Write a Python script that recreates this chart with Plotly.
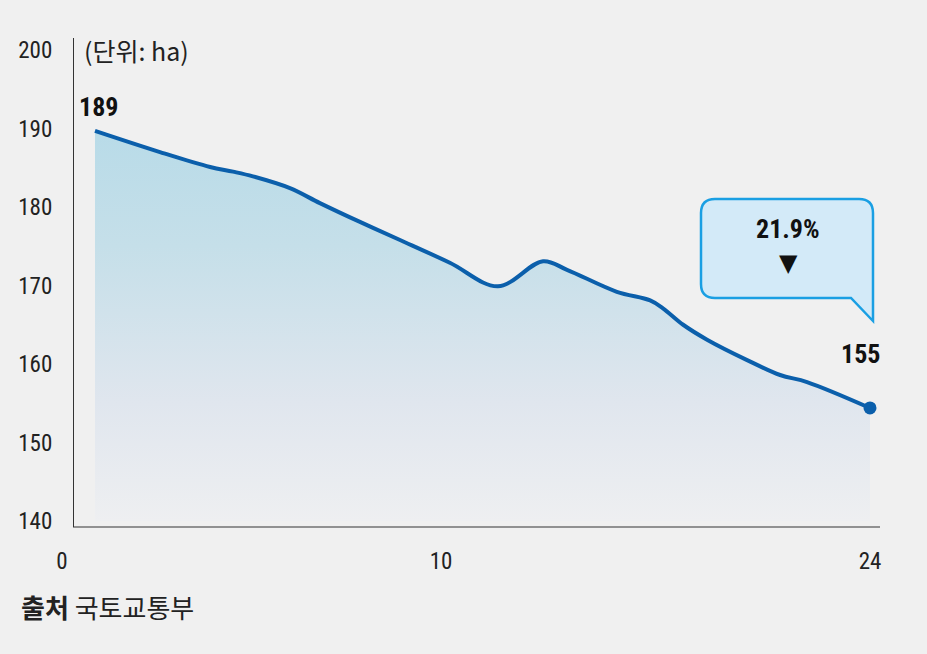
import plotly.graph_objects as go

# x position (0 .. 24 scale of the axis) and area in ha
x_pos = [0.98, 2.91, 4.40, 5.08, 5.67, 6.77, 7.66, 8.85, 10.04, 11.52, 12.95,
         14.29, 15.00, 16.48, 17.47, 17.85, 18.45, 19.16, 20.35, 21.33, 22.13, 24.0]
area = [189.7, 187.0, 185.1, 184.5, 183.9, 182.4, 180.5, 178.1, 175.8, 172.9, 169.9,
        173.1, 172.0, 169.2, 168.1, 167.1, 165.0, 163.1, 160.5, 158.6, 157.7, 154.4]
tick_vals = [0, 11.26, 24]
tick_text = ["0", "10", "24"]
y_ticks = [140, 150, 160, 170, 180, 190, 200]
start_label = "189"
end_label = "155"
change_label = "21.9%"

W, H = 927, 654
L, R, T, B = 62, 880, 38, 527
FONT = "Liberation Sans Narrow, Roboto Condensed, DejaVu Sans Condensed, Noto Sans CJK KR"
KFONT = "Liberation Sans Narrow, Noto Sans CJK KR"
LINE = "#0b5fab"


def px(x, y):
    """ pixel -> paper coords """
    return (x - L) / (R - L), (B - y) / (B - T)


fig = go.Figure()

# baseline for the gradient fill
fig.add_trace(go.Scatter(x=[x_pos[0], x_pos[-1]], y=[140, 140], mode="lines",
                         line=dict(width=0), hoverinfo="skip", showlegend=False))
fig.add_trace(go.Scatter(x=x_pos, y=area, mode="lines",
                         line=dict(color=LINE, width=4, shape="spline", smoothing=1.0),
                         fill="tonexty",
                         fillgradient=dict(type="vertical", start=140, stop=190,
                                           colorscale=[[0, "#eeeff1"], [0.3, "#e0e6ee"],
                                                       [0.7, "#c5dfe9"], [1, "#b8dbe8"]]),
                         showlegend=False))
fig.add_trace(go.Scatter(x=[x_pos[-1]], y=[area[-1]], mode="markers",
                         marker=dict(color=LINE, size=13), showlegend=False))

x_range = [0, (R - L) / ((870 - 62) / 24)]
fig.update_xaxes(range=x_range, tickvals=tick_vals, ticktext=tick_text,
                 showgrid=False, zeroline=False, showline=False, ticks="",
                 ticklabelstandoff=18, tickfont=dict(family=FONT, size=23, color="#222"))
fig.update_yaxes(range=[140 - (B - 521) / 7.85, 140 + (521 - T) / 7.85],
                 tickvals=y_ticks, showgrid=False, zeroline=False,
                 showline=True, linecolor="#333", linewidth=1.2, ticks="",
                 anchor="free", position=(73 - L) / (R - L),
                 ticklabelstandoff=16, tickfont=dict(family=FONT, size=23, color="#222"))

# x axis line starts at the y axis
x0, _ = px(73, 0)
fig.add_shape(type="line", xref="paper", yref="paper", x0=x0, x1=1, y0=0, y1=0,
              line=dict(color="#333", width=1.2))

# speech bubble
pts = [(715, 199), (859, 199), (873, 199), (873, 213), (873, 321), (851, 298),
       (715, 298), (701, 298), (701, 284), (701, 213), (701, 199), (715, 199)]
p = [px(a, b) for a, b in pts]
path = (f"M {p[0][0]},{p[0][1]} L {p[1][0]},{p[1][1]} Q {p[2][0]},{p[2][1]} {p[3][0]},{p[3][1]} "
        f"L {p[4][0]},{p[4][1]} L {p[5][0]},{p[5][1]} L {p[6][0]},{p[6][1]} "
        f"Q {p[7][0]},{p[7][1]} {p[8][0]},{p[8][1]} L {p[9][0]},{p[9][1]} "
        f"Q {p[10][0]},{p[10][1]} {p[11][0]},{p[11][1]} Z")
fig.add_shape(type="path", xref="paper", yref="paper", path=path,
              fillcolor="#d3eaf8", line=dict(color="#1a9fe3", width=2.5))

cx, cy = px(788, 229)
fig.add_annotation(x=cx, y=cy, xref="paper", yref="paper", text=f"<b>{change_label}</b>",
                   xanchor="center", yanchor="middle",
                   showarrow=False, font=dict(family=FONT, size=26, color="#111"))
cx, cy = px(788, 263)
fig.add_annotation(x=cx, y=cy, xref="paper", yref="paper", text="▼",
                   xanchor="center", yanchor="middle",
                   showarrow=False, font=dict(family="DejaVu Sans", size=24, color="#111"))

# value labels
fig.add_annotation(x=x_pos[0], y=area[0], text=f"<b>{start_label}</b>", showarrow=False,
                   xshift=4, yshift=24, font=dict(family=FONT, size=26, color="#111"))
fig.add_annotation(x=x_pos[-1], y=area[-1], text=f"<b>{end_label}</b>", showarrow=False,
                   xshift=-10, yshift=54, font=dict(family=FONT, size=26, color="#111"))

# unit and source
ux, uy = px(82, 50)
fig.add_annotation(x=ux, y=uy, xref="paper", yref="paper", text="(단위: ha)",
                   xanchor="left", yanchor="middle", showarrow=False,
                   font=dict(family=KFONT, size=25, color="#222"))
sx, sy = px(19, 606)
fig.add_annotation(x=sx, y=sy, xref="paper", yref="paper", text="<b>출처</b> 국토교통부",
                   xanchor="left", yanchor="middle", showarrow=False,
                   font=dict(family=KFONT, size=26, color="#222"))

fig.update_layout(width=W, height=H, margin=dict(l=L, r=W - R, t=T, b=H - B),
                  paper_bgcolor="#f0f0f0", plot_bgcolor="#f0f0f0")

fig.write_html("out.html", config={"displayModeBar": False},
               post_script="document.body.style.margin='0';")
